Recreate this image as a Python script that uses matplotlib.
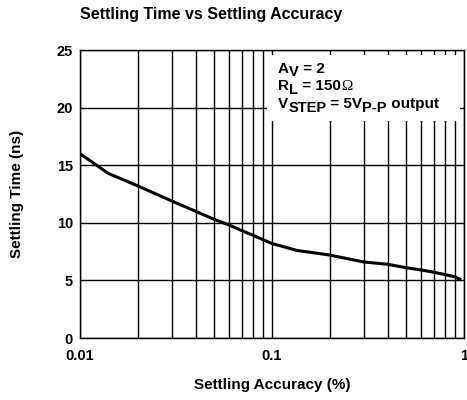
import numpy as np
import matplotlib
matplotlib.use("Agg")
import matplotlib.pyplot as plt
from matplotlib.patches import Rectangle
from matplotlib.transforms import IdentityTransform
from matplotlib.ticker import LogLocator, FixedLocator, NullFormatter

plt.rcParams['font.family'] = ['Liberation Sans', 'DejaVu Sans']
plt.rcParams['font.weight'] = 'bold'

# settling accuracy (%) vs settling time (ns)
accuracy = [0.01, 0.014, 0.02, 0.03, 0.04, 0.05, 0.06, 0.07, 0.08, 0.1,
            0.135, 0.2, 0.3, 0.4, 0.5, 0.6, 0.7, 0.8, 0.9, 0.95]
settling_time = [16.0, 14.3, 13.2, 11.9, 11.0, 10.3, 9.8, 9.3, 8.9, 8.2,
                 7.6, 7.2, 6.6, 6.4, 6.1, 5.9, 5.7, 5.5, 5.3, 5.1]

y_ticks = [0, 5, 10, 15, 20, 25]
x_ticks = [0.01, 0.1, 1]
x_tick_labels = ['0.01', '0.1', '1']

# annotation lines: (text, style) pieces, style 'n' normal, 's' subscript, 'o' ohm sign
notes = [
    [('A', 'n'), ('V', 's'), (' = 2', 'n')],
    [('R', 'n'), ('L', 's'), (' = 150', 'n'), ('\u03a9', 'o')],
    [('V', 'n'), ('STEP', 's'), (' = 5V', 'n'), ('P-P', 's'), (' output', 'n')],
]

W, H = 467, 400
fig = plt.figure(figsize=(W / 100, H / 100), dpi=100)
ax = fig.add_axes([80 / W, 62 / H, 384 / W, 288 / H])

ax.set_xscale('log')
ax.set_xlim(0.01, 1)
ax.set_ylim(0, 25)
ax.set_axisbelow(True)

ax.xaxis.set_major_locator(FixedLocator(x_ticks))
ax.set_xticklabels(x_tick_labels)
ax.xaxis.set_minor_locator(LogLocator(base=10, subs=np.arange(2, 10)))
ax.xaxis.set_minor_formatter(NullFormatter())
ax.set_yticks(y_ticks)

ax.grid(True, which='both', axis='x', color='black', linewidth=1)
ax.grid(True, which='major', axis='y', color='black', linewidth=1)
ax.tick_params(which='both', length=0, labelsize=10.5)
ax.tick_params(axis='x', pad=8)
ax.tick_params(axis='y', pad=5)
for sp in ax.spines.values():
    sp.set_linewidth(1)

# white box behind annotation
ax.add_patch(Rectangle((0.487, 0.753), 0.503, 0.23, transform=ax.transAxes,
                       facecolor='white', edgecolor='none', zorder=1.5))

ax.plot(accuracy, settling_time, color='black', linewidth=2.2, zorder=3)

# annotation, written piece by piece so subscripts can stay large
renderer = fig.canvas.get_renderer()
baselines = [73, 90.5, 108]
for line, base in zip(notes, baselines):
    x = 278
    for txt, style in line:
        kw = dict(fontsize=11, fontweight='bold')
        dy = 0
        if style == 's':
            kw = dict(fontsize=10.5, fontweight='bold')
            dy = -3.5
        elif style == 'o':
            kw = dict(fontsize=11, fontweight='normal', family='Liberation Serif')
        t = fig.text(x, H - base + dy, txt, transform=IdentityTransform(),
                     ha='left', va='baseline', zorder=5, **kw)
        x = t.get_window_extent(renderer).x1

fig.text(80 / W, 1 - 14 / H, 'Settling Time vs Settling Accuracy',
         fontsize=11.5, fontweight='bold', ha='left', va='center')
ax.set_xlabel('Settling Accuracy (%)', fontsize=11, fontweight='bold', va='center')
ax.xaxis.set_label_coords(0.5, (338 - 385) / 288)
ax.set_ylabel('Settling Time (ns)', fontsize=11, fontweight='bold', va='center')
ax.yaxis.set_label_coords((17 - 80) / 384, 0.5)

fig.savefig('out.png', dpi=100)
